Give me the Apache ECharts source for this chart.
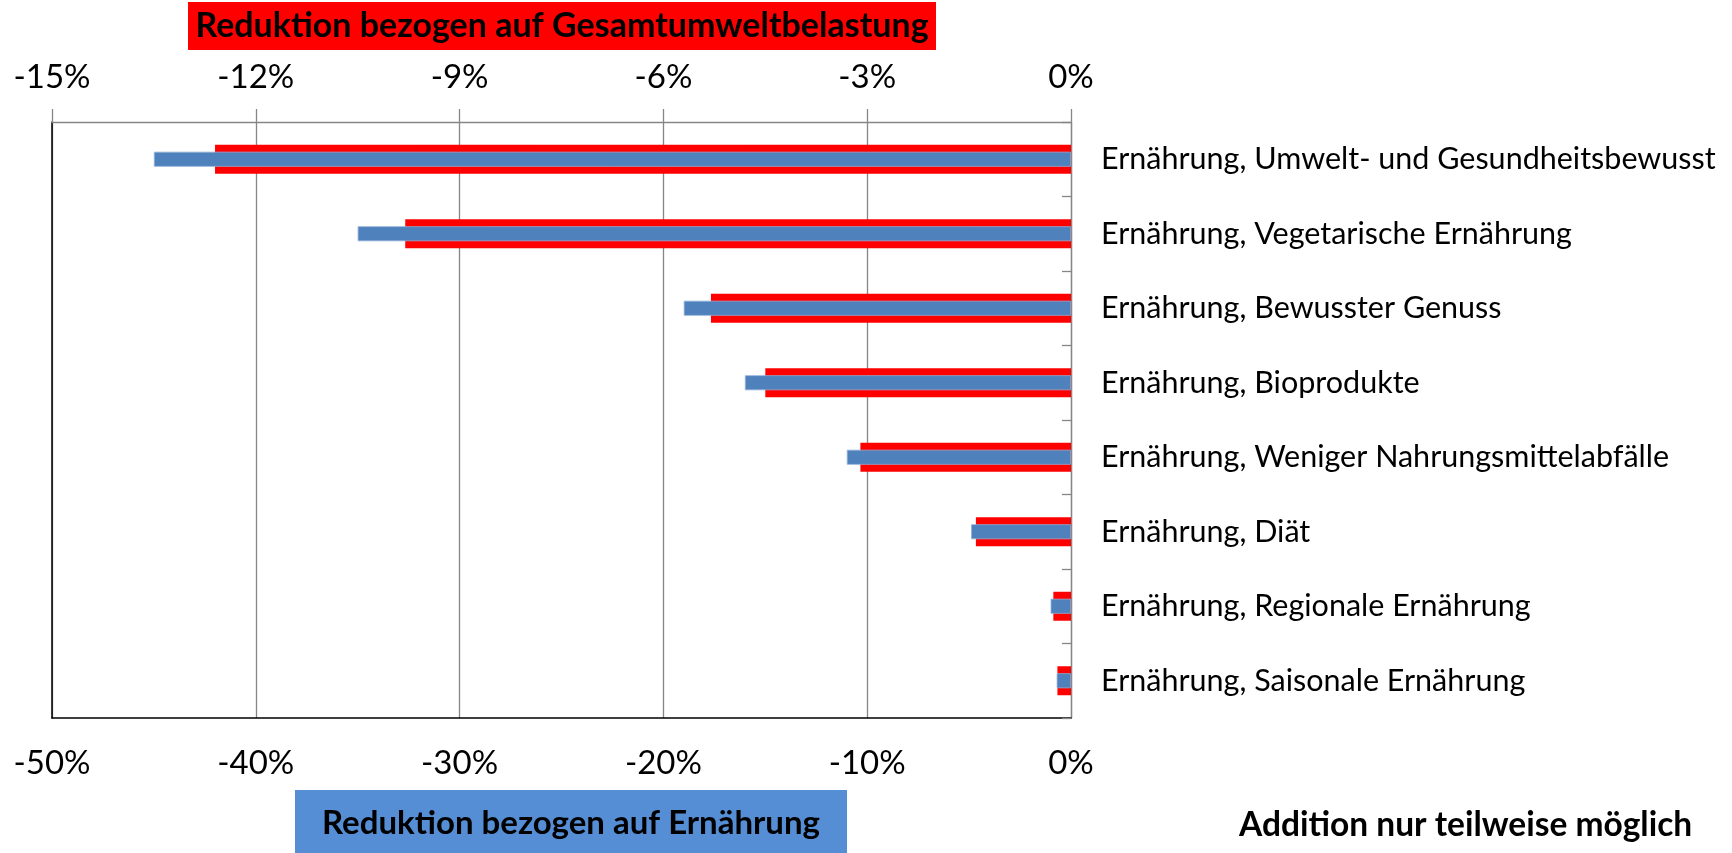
<!DOCTYPE html>
<html>
<head>
<meta charset="utf-8">
<script src="https://cdn.jsdelivr.net/npm/echarts@6/dist/echarts.min.js"></script>
<style>html,body{margin:0;padding:0;background:#fff;}#c{width:1732px;height:853px;}</style>
</head>
<body>
<div id="c"></div>
<script>
const categories = [
  'Ernährung, Umwelt- und Gesundheitsbewusst',
  'Ernährung, Vegetarische Ernährung',
  'Ernährung, Bewusster Genuss',
  'Ernährung, Bioprodukte',
  'Ernährung, Weniger Nahrungsmittelabfälle',
  'Ernährung, Diät',
  'Ernährung, Regionale Ernährung',
  'Ernährung, Saisonale Ernährung'
];
// Reduktion bezogen auf Gesamtumweltbelastung (top axis, %)
const gesamtValues = [-12.6, -9.8, -5.3, -4.5, -3.1, -1.4, -0.26, -0.2];
// Reduktion bezogen auf Ernährung (bottom axis, %)
const ernaehrungValues = [-45, -35, -19, -16, -11, -4.9, -1.0, -0.7];
const topTitle = 'Reduktion bezogen auf Gesamtumweltbelastung';
const bottomTitle = 'Reduktion bezogen auf Ernährung';
const note = 'Addition nur teilweise möglich';

const FONT = 'Lato';
const chart = echarts.init(document.getElementById('c'));
chart.setOption({
  animation: false,
  backgroundColor: '#fff',
  textStyle: { fontFamily: FONT },
  grid: { left: 52, right: 661, top: 122, bottom: 135, containLabel: false },
  xAxis: [
    {
      type: 'value', position: 'bottom', min: -50, max: 0, interval: 10,
      axisLine: { show: true, onZero: false, lineStyle: { color: '#000', width: 1.5 } },
      axisTick: { show: false },
      axisLabel: { formatter: v => v + '%', fontSize: 33, color: '#000', margin: 29, fontFamily: FONT },
      splitLine: { show: true, lineStyle: { color: '#868686', width: 1.3 } }
    },
    {
      type: 'value', position: 'top', min: -15, max: 0, interval: 3,
      axisLine: { show: true, onZero: false, lineStyle: { color: '#868686', width: 1.3 } },
      axisTick: { show: true, inside: false, length: 13, lineStyle: { color: '#868686', width: 1.3 } },
      axisLabel: { formatter: v => v + '%', fontSize: 33, color: '#000', margin: 28, fontFamily: FONT },
      splitLine: { show: false }
    }
  ],
  yAxis: [
    {
      type: 'category', data: categories, inverse: true, position: 'right',
      axisLine: { show: true, onZero: false, lineStyle: { color: '#868686', width: 1.3 } },
      axisTick: { show: true, inside: true, length: 9, lineStyle: { color: '#868686', width: 1.3 } },
      axisLabel: { fontSize: 30.5, color: '#000', margin: 30, fontFamily: FONT },
      splitLine: { show: false }
    },
    {
      type: 'category', data: categories, inverse: true, position: 'left',
      axisLine: { show: true, onZero: false, lineStyle: { color: '#000', width: 1.5 } },
      axisTick: { show: false },
      axisLabel: { show: false },
      splitLine: { show: false }
    }
  ],
  series: [
    {
      name: topTitle, type: 'bar', xAxisIndex: 1, yAxisIndex: 0,
      data: gesamtValues, barWidth: 29,
      itemStyle: { color: '#FF0000' }
    },
    {
      name: bottomTitle, type: 'bar', xAxisIndex: 0, yAxisIndex: 1,
      data: ernaehrungValues, barWidth: 15,
      itemStyle: { color: '#4F81BD', borderColor: '#8fb0d8', borderWidth: 0.8 }
    }
  ],
  graphic: [
    { type: 'rect', left: 188, top: 2, shape: { width: 748, height: 48 }, style: { fill: '#FF0000' } },
    { type: 'text', x: 562, y: 26, style: { text: topTitle, fontFamily: FONT, fontWeight: 'bold', fontSize: 34, fill: '#000', align: 'center', verticalAlign: 'middle' } },
    { type: 'rect', left: 295, top: 790, shape: { width: 552, height: 63 }, style: { fill: '#558ED5' } },
    { type: 'text', x: 571, y: 823, style: { text: bottomTitle, fontFamily: FONT, fontWeight: 'bold', fontSize: 33, fill: '#000', align: 'center', verticalAlign: 'middle' } },
    { type: 'text', x: 1239, y: 825, style: { text: note, fontFamily: FONT, fontWeight: 'bold', fontSize: 33.5, fill: '#000', align: 'left', verticalAlign: 'middle' } }
  ]
});
</script>
</body>
</html>
